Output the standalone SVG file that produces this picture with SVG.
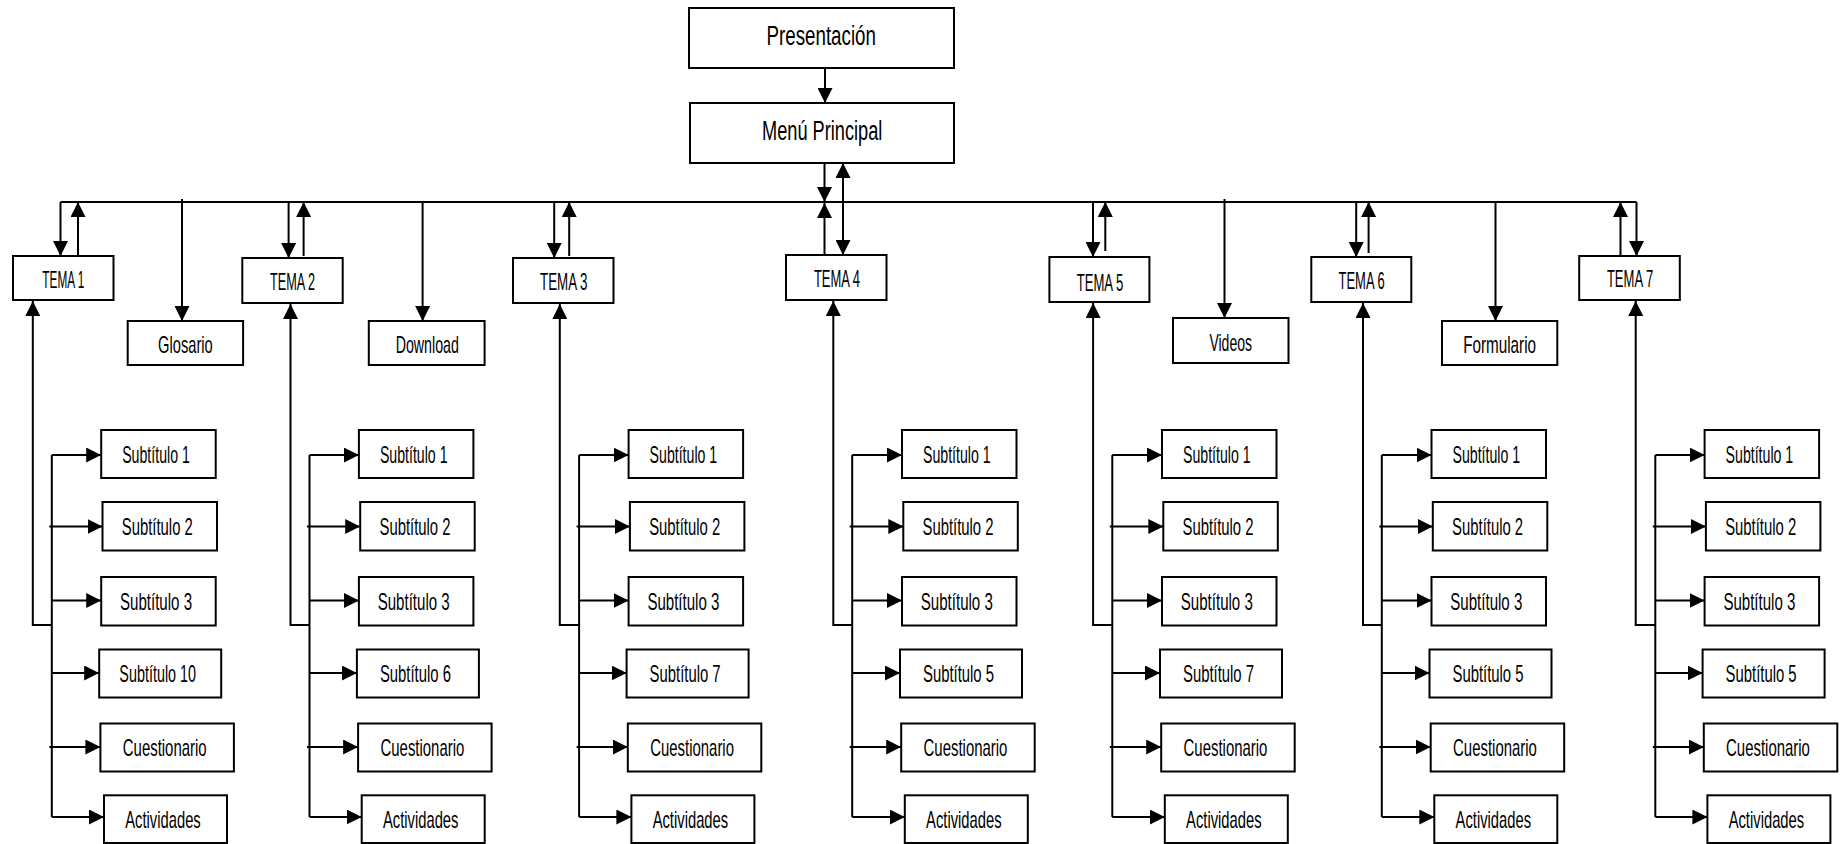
<svg xmlns="http://www.w3.org/2000/svg" width="1848" height="844" viewBox="0 0 1848 844">
<style>
.box{fill:#fff;stroke:#000;stroke-width:2}
.t{font-family:"Liberation Sans Narrow","Liberation Sans",Arial,sans-serif;font-size:24px;text-anchor:middle;fill:#000}
.big{font-size:27px}
.ln{fill:none;stroke:#000;stroke-width:2}
.arr{marker-end:url(#ah)}
.arr2{marker-start:url(#ah);marker-end:url(#ah)}
</style>
<defs>
<marker id="ah" markerUnits="userSpaceOnUse" markerWidth="15" markerHeight="15" refX="15" refY="7.5" orient="auto-start-reverse"><path d="M0,0 L15,7.5 L0,15 z" fill="#000"/></marker>
</defs>
<rect width="1848" height="844" fill="#fff"/>
<g id="connectors">
<path class="ln arr" d="M825,68 V103"/>
<path class="ln arr" d="M824.5,163 V202"/>
<path class="ln arr2" d="M843,163 V255"/>
<path class="ln arr" d="M824.5,255 V203"/>
<path class="ln" d="M60.5,202 H1636.5"/>
<path class="ln arr" d="M60.5,202 V256"/>
<path class="ln arr" d="M78,256 V202"/>
<path class="ln arr" d="M182,199 V321"/>
<path class="ln arr" d="M288.6,202 V258"/>
<path class="ln arr" d="M303.6,256 V202"/>
<path class="ln arr" d="M422.6,202 V321"/>
<path class="ln arr" d="M554.2,202 V258"/>
<path class="ln arr" d="M569.2,256 V202"/>
<path class="ln arr" d="M1093,202 V257"/>
<path class="ln arr" d="M1105.3,251 V202"/>
<path class="ln arr" d="M1224.5,199 V318"/>
<path class="ln arr" d="M1356.2,202 V257"/>
<path class="ln arr" d="M1368.6,253 V202"/>
<path class="ln arr" d="M1495.5,202 V321"/>
<path class="ln arr" d="M1620.5,256 V202"/>
<path class="ln arr" d="M1636.5,202 V256"/>
<!-- col1 -->
<path class="ln arr" d="M51.8,625 H32.8 V301"/>
<path class="ln" d="M51.8,455 V817"/>
<path class="ln arr" d="M51.8,455 H101.2"/>
<path class="ln arr" d="M49.3,526.5 H102.5"/>
<path class="ln arr" d="M51.8,600.5 H101.2"/>
<path class="ln arr" d="M51.8,673 H99.2"/>
<path class="ln arr" d="M49.3,747 H100.4"/>
<path class="ln arr" d="M51.8,817 H104"/>
<!-- col2 -->
<path class="ln arr" d="M309.5,625 H290.5 V304"/>
<path class="ln" d="M309.5,455 V817"/>
<path class="ln arr" d="M309.5,455 H358.9"/>
<path class="ln arr" d="M307,526.5 H360.2"/>
<path class="ln arr" d="M309.5,600.5 H358.9"/>
<path class="ln arr" d="M309.5,673 H356.9"/>
<path class="ln arr" d="M307,747 H358.1"/>
<path class="ln arr" d="M309.5,817 H361.7"/>
<!-- col3 -->
<path class="ln arr" d="M579.1,625 H559.8 V304"/>
<path class="ln" d="M579.1,455 V817"/>
<path class="ln arr" d="M579.1,455 H628.6"/>
<path class="ln arr" d="M576.6,526.5 H629.9"/>
<path class="ln arr" d="M579.1,600.5 H628.6"/>
<path class="ln arr" d="M579.1,673 H626.6"/>
<path class="ln arr" d="M576.6,747 H627.8"/>
<path class="ln arr" d="M579.1,817 H631.4"/>
<!-- col4 -->
<path class="ln arr" d="M852.2,625 H833.3 V301"/>
<path class="ln" d="M852.2,455 V817"/>
<path class="ln arr" d="M852.2,455 H902"/>
<path class="ln arr" d="M849.7,526.5 H903.3"/>
<path class="ln arr" d="M852.2,600.5 H902"/>
<path class="ln arr" d="M852.2,673 H900"/>
<path class="ln arr" d="M849.7,747 H901.2"/>
<path class="ln arr" d="M852.2,817 H904.8"/>
<!-- col5 -->
<path class="ln arr" d="M1112.3,625 H1093.1 V303"/>
<path class="ln" d="M1112.3,455 V817"/>
<path class="ln arr" d="M1112.3,455 H1162"/>
<path class="ln arr" d="M1109.8,526.5 H1163.3"/>
<path class="ln arr" d="M1112.3,600.5 H1162"/>
<path class="ln arr" d="M1112.3,673 H1160"/>
<path class="ln arr" d="M1109.8,747 H1161.2"/>
<path class="ln arr" d="M1112.3,817 H1164.8"/>
<!-- col6 -->
<path class="ln arr" d="M1381.8,625 H1363 V303"/>
<path class="ln" d="M1381.8,455 V817"/>
<path class="ln arr" d="M1381.8,455 H1431.5"/>
<path class="ln arr" d="M1379.3,526.5 H1432.8"/>
<path class="ln arr" d="M1381.8,600.5 H1431.5"/>
<path class="ln arr" d="M1381.8,673 H1429.5"/>
<path class="ln arr" d="M1379.3,747 H1430.7"/>
<path class="ln arr" d="M1381.8,817 H1434.3"/>
<!-- col7 -->
<path class="ln arr" d="M1655.3,625 H1635.7 V301"/>
<path class="ln" d="M1655.3,455 V817"/>
<path class="ln arr" d="M1655.3,455 H1704.6"/>
<path class="ln arr" d="M1652.8,526.5 H1705.9"/>
<path class="ln arr" d="M1655.3,600.5 H1704.6"/>
<path class="ln arr" d="M1655.3,673 H1702.6"/>
<path class="ln arr" d="M1652.8,747 H1703.8"/>
<path class="ln arr" d="M1655.3,817 H1707.4"/>
</g>
<g id="presentacion"><rect class="box" x="689" y="8" width="265" height="60"/><text class="t big" x="821.2" y="45" textLength="109.4" lengthAdjust="spacingAndGlyphs">Presentación</text></g>
<g id="menu"><rect class="box" x="690" y="103" width="264" height="60"/><text class="t big" x="822.2" y="140" textLength="120.4" lengthAdjust="spacingAndGlyphs">Menú Principal</text></g>
<g id="tema1"><rect class="box" x="13" y="256" width="100.5" height="44"/><text class="t" x="63.3" y="288" textLength="41.9" lengthAdjust="spacingAndGlyphs">TEMA 1</text></g>
<g id="tema2"><rect class="box" x="242.3" y="258" width="100.4" height="45"/><text class="t" x="292.5" y="290" textLength="45" lengthAdjust="spacingAndGlyphs">TEMA 2</text></g>
<g id="tema3"><rect class="box" x="513" y="258" width="100.5" height="45"/><text class="t" x="563.7" y="290" textLength="47.4" lengthAdjust="spacingAndGlyphs">TEMA 3</text></g>
<g id="tema4"><rect class="box" x="786" y="255" width="100.5" height="45"/><text class="t" x="837" y="286.7" textLength="46.1" lengthAdjust="spacingAndGlyphs">TEMA 4</text></g>
<g id="tema5"><rect class="box" x="1049.4" y="257" width="100" height="45"/><text class="t" x="1100" y="290.7" textLength="46.6" lengthAdjust="spacingAndGlyphs">TEMA 5</text></g>
<g id="tema6"><rect class="box" x="1311.3" y="257" width="100" height="45"/><text class="t" x="1361.6" y="289" textLength="46.1" lengthAdjust="spacingAndGlyphs">TEMA 6</text></g>
<g id="tema7"><rect class="box" x="1579.2" y="256" width="100.6" height="44"/><text class="t" x="1630.1" y="287.3" textLength="46.4" lengthAdjust="spacingAndGlyphs">TEMA 7</text></g>
<g id="glosario"><rect class="box" x="127.7" y="321" width="115.4" height="44"/><text class="t" x="185.4" y="352.7" textLength="54.6" lengthAdjust="spacingAndGlyphs">Glosario</text></g>
<g id="download"><rect class="box" x="368.8" y="321" width="115.8" height="44"/><text class="t" x="427.3" y="352.7" textLength="63.3" lengthAdjust="spacingAndGlyphs">Download</text></g>
<g id="videos"><rect class="box" x="1173" y="318" width="115.5" height="45"/><text class="t" x="1230.7" y="351" textLength="42.6" lengthAdjust="spacingAndGlyphs">Videos</text></g>
<g id="formulario"><rect class="box" x="1442" y="321" width="115.3" height="44"/><text class="t" x="1499.6" y="352.7" textLength="72.9" lengthAdjust="spacingAndGlyphs">Formulario</text></g>
<!-- column 1 -->
<g id="t1-s1"><rect class="box" x="101.2" y="430" width="114.5" height="48"/><text class="t" x="156" y="462.5" textLength="67.6" lengthAdjust="spacingAndGlyphs">Subtítulo 1</text></g>
<g id="t1-s2"><rect class="box" x="102.5" y="502" width="114.5" height="48.5"/><text class="t" x="157.3" y="534.5" textLength="71" lengthAdjust="spacingAndGlyphs">Subtítulo 2</text></g>
<g id="t1-s3"><rect class="box" x="101.2" y="577" width="114.5" height="48.5"/><text class="t" x="156" y="609.5" textLength="72" lengthAdjust="spacingAndGlyphs">Subtítulo 3</text></g>
<g id="t1-s4"><rect class="box" x="99.2" y="649.5" width="122" height="48"/><text class="t" x="157.7" y="682" textLength="76.7" lengthAdjust="spacingAndGlyphs">Subtítulo 10</text></g>
<g id="t1-c"><rect class="box" x="100.4" y="723.5" width="133.5" height="48"/><text class="t" x="164.7" y="756" textLength="83.8" lengthAdjust="spacingAndGlyphs">Cuestionario</text></g>
<g id="t1-a"><rect class="box" x="104" y="795.3" width="123" height="47.7"/><text class="t" x="163" y="827.8" textLength="75.5" lengthAdjust="spacingAndGlyphs">Actividades</text></g>
<!-- column 2 -->
<g id="t2-s1"><rect class="box" x="358.9" y="430" width="114.5" height="48"/><text class="t" x="413.7" y="462.5" textLength="67.6" lengthAdjust="spacingAndGlyphs">Subtítulo 1</text></g>
<g id="t2-s2"><rect class="box" x="360.2" y="502" width="114.5" height="48.5"/><text class="t" x="415" y="534.5" textLength="71" lengthAdjust="spacingAndGlyphs">Subtítulo 2</text></g>
<g id="t2-s3"><rect class="box" x="358.9" y="577" width="114.5" height="48.5"/><text class="t" x="413.7" y="609.5" textLength="72" lengthAdjust="spacingAndGlyphs">Subtítulo 3</text></g>
<g id="t2-s4"><rect class="box" x="356.9" y="649.5" width="122" height="48"/><text class="t" x="415.4" y="682" textLength="71" lengthAdjust="spacingAndGlyphs">Subtítulo 6</text></g>
<g id="t2-c"><rect class="box" x="358.1" y="723.5" width="133.5" height="48"/><text class="t" x="422.4" y="756" textLength="83.8" lengthAdjust="spacingAndGlyphs">Cuestionario</text></g>
<g id="t2-a"><rect class="box" x="361.7" y="795.3" width="123" height="47.7"/><text class="t" x="420.7" y="827.8" textLength="75.5" lengthAdjust="spacingAndGlyphs">Actividades</text></g>
<!-- column 3 -->
<g id="t3-s1"><rect class="box" x="628.6" y="430" width="114.5" height="48"/><text class="t" x="683.4" y="462.5" textLength="67.6" lengthAdjust="spacingAndGlyphs">Subtítulo 1</text></g>
<g id="t3-s2"><rect class="box" x="629.9" y="502" width="114.5" height="48.5"/><text class="t" x="684.7" y="534.5" textLength="71" lengthAdjust="spacingAndGlyphs">Subtítulo 2</text></g>
<g id="t3-s3"><rect class="box" x="628.6" y="577" width="114.5" height="48.5"/><text class="t" x="683.4" y="609.5" textLength="72" lengthAdjust="spacingAndGlyphs">Subtítulo 3</text></g>
<g id="t3-s4"><rect class="box" x="626.6" y="649.5" width="122" height="48"/><text class="t" x="685.1" y="682" textLength="71" lengthAdjust="spacingAndGlyphs">Subtítulo 7</text></g>
<g id="t3-c"><rect class="box" x="627.8" y="723.5" width="133.5" height="48"/><text class="t" x="692.1" y="756" textLength="83.8" lengthAdjust="spacingAndGlyphs">Cuestionario</text></g>
<g id="t3-a"><rect class="box" x="631.4" y="795.3" width="123" height="47.7"/><text class="t" x="690.4" y="827.8" textLength="75.5" lengthAdjust="spacingAndGlyphs">Actividades</text></g>
<!-- column 4 -->
<g id="t4-s1"><rect class="box" x="902" y="430" width="114.5" height="48"/><text class="t" x="956.8" y="462.5" textLength="67.6" lengthAdjust="spacingAndGlyphs">Subtítulo 1</text></g>
<g id="t4-s2"><rect class="box" x="903.3" y="502" width="114.5" height="48.5"/><text class="t" x="958" y="534.5" textLength="71" lengthAdjust="spacingAndGlyphs">Subtítulo 2</text></g>
<g id="t4-s3"><rect class="box" x="902" y="577" width="114.5" height="48.5"/><text class="t" x="956.8" y="609.5" textLength="72" lengthAdjust="spacingAndGlyphs">Subtítulo 3</text></g>
<g id="t4-s4"><rect class="box" x="900" y="649.5" width="122" height="48"/><text class="t" x="958.5" y="682" textLength="71" lengthAdjust="spacingAndGlyphs">Subtítulo 5</text></g>
<g id="t4-c"><rect class="box" x="901.2" y="723.5" width="133.5" height="48"/><text class="t" x="965.5" y="756" textLength="83.8" lengthAdjust="spacingAndGlyphs">Cuestionario</text></g>
<g id="t4-a"><rect class="box" x="904.8" y="795.3" width="123" height="47.7"/><text class="t" x="963.8" y="827.8" textLength="75.5" lengthAdjust="spacingAndGlyphs">Actividades</text></g>
<!-- column 5 -->
<g id="t5-s1"><rect class="box" x="1162" y="430" width="114.5" height="48"/><text class="t" x="1216.8" y="462.5" textLength="67.6" lengthAdjust="spacingAndGlyphs">Subtítulo 1</text></g>
<g id="t5-s2"><rect class="box" x="1163.3" y="502" width="114.5" height="48.5"/><text class="t" x="1218" y="534.5" textLength="71" lengthAdjust="spacingAndGlyphs">Subtítulo 2</text></g>
<g id="t5-s3"><rect class="box" x="1162" y="577" width="114.5" height="48.5"/><text class="t" x="1216.8" y="609.5" textLength="72" lengthAdjust="spacingAndGlyphs">Subtítulo 3</text></g>
<g id="t5-s4"><rect class="box" x="1160" y="649.5" width="122" height="48"/><text class="t" x="1218.5" y="682" textLength="71" lengthAdjust="spacingAndGlyphs">Subtítulo 7</text></g>
<g id="t5-c"><rect class="box" x="1161.2" y="723.5" width="133.5" height="48"/><text class="t" x="1225.5" y="756" textLength="83.8" lengthAdjust="spacingAndGlyphs">Cuestionario</text></g>
<g id="t5-a"><rect class="box" x="1164.8" y="795.3" width="123" height="47.7"/><text class="t" x="1223.8" y="827.8" textLength="75.5" lengthAdjust="spacingAndGlyphs">Actividades</text></g>
<!-- column 6 -->
<g id="t6-s1"><rect class="box" x="1431.5" y="430" width="114.5" height="48"/><text class="t" x="1486.3" y="462.5" textLength="67.6" lengthAdjust="spacingAndGlyphs">Subtítulo 1</text></g>
<g id="t6-s2"><rect class="box" x="1432.8" y="502" width="114.5" height="48.5"/><text class="t" x="1487.6" y="534.5" textLength="71" lengthAdjust="spacingAndGlyphs">Subtítulo 2</text></g>
<g id="t6-s3"><rect class="box" x="1431.5" y="577" width="114.5" height="48.5"/><text class="t" x="1486.3" y="609.5" textLength="72" lengthAdjust="spacingAndGlyphs">Subtítulo 3</text></g>
<g id="t6-s4"><rect class="box" x="1429.5" y="649.5" width="122" height="48"/><text class="t" x="1488" y="682" textLength="71" lengthAdjust="spacingAndGlyphs">Subtítulo 5</text></g>
<g id="t6-c"><rect class="box" x="1430.7" y="723.5" width="133.5" height="48"/><text class="t" x="1495" y="756" textLength="83.8" lengthAdjust="spacingAndGlyphs">Cuestionario</text></g>
<g id="t6-a"><rect class="box" x="1434.3" y="795.3" width="123" height="47.7"/><text class="t" x="1493.3" y="827.8" textLength="75.5" lengthAdjust="spacingAndGlyphs">Actividades</text></g>
<!-- column 7 -->
<g id="t7-s1"><rect class="box" x="1704.6" y="430" width="114.5" height="48"/><text class="t" x="1759.4" y="462.5" textLength="67.6" lengthAdjust="spacingAndGlyphs">Subtítulo 1</text></g>
<g id="t7-s2"><rect class="box" x="1705.9" y="502" width="114.5" height="48.5"/><text class="t" x="1760.7" y="534.5" textLength="71" lengthAdjust="spacingAndGlyphs">Subtítulo 2</text></g>
<g id="t7-s3"><rect class="box" x="1704.6" y="577" width="114.5" height="48.5"/><text class="t" x="1759.4" y="609.5" textLength="72" lengthAdjust="spacingAndGlyphs">Subtítulo 3</text></g>
<g id="t7-s4"><rect class="box" x="1702.6" y="649.5" width="122" height="48"/><text class="t" x="1761.1" y="682" textLength="71" lengthAdjust="spacingAndGlyphs">Subtítulo 5</text></g>
<g id="t7-c"><rect class="box" x="1703.8" y="723.5" width="133.5" height="48"/><text class="t" x="1768" y="756" textLength="83.8" lengthAdjust="spacingAndGlyphs">Cuestionario</text></g>
<g id="t7-a"><rect class="box" x="1707.4" y="795.3" width="123" height="47.7"/><text class="t" x="1766.4" y="827.8" textLength="75.5" lengthAdjust="spacingAndGlyphs">Actividades</text></g>
</svg>
